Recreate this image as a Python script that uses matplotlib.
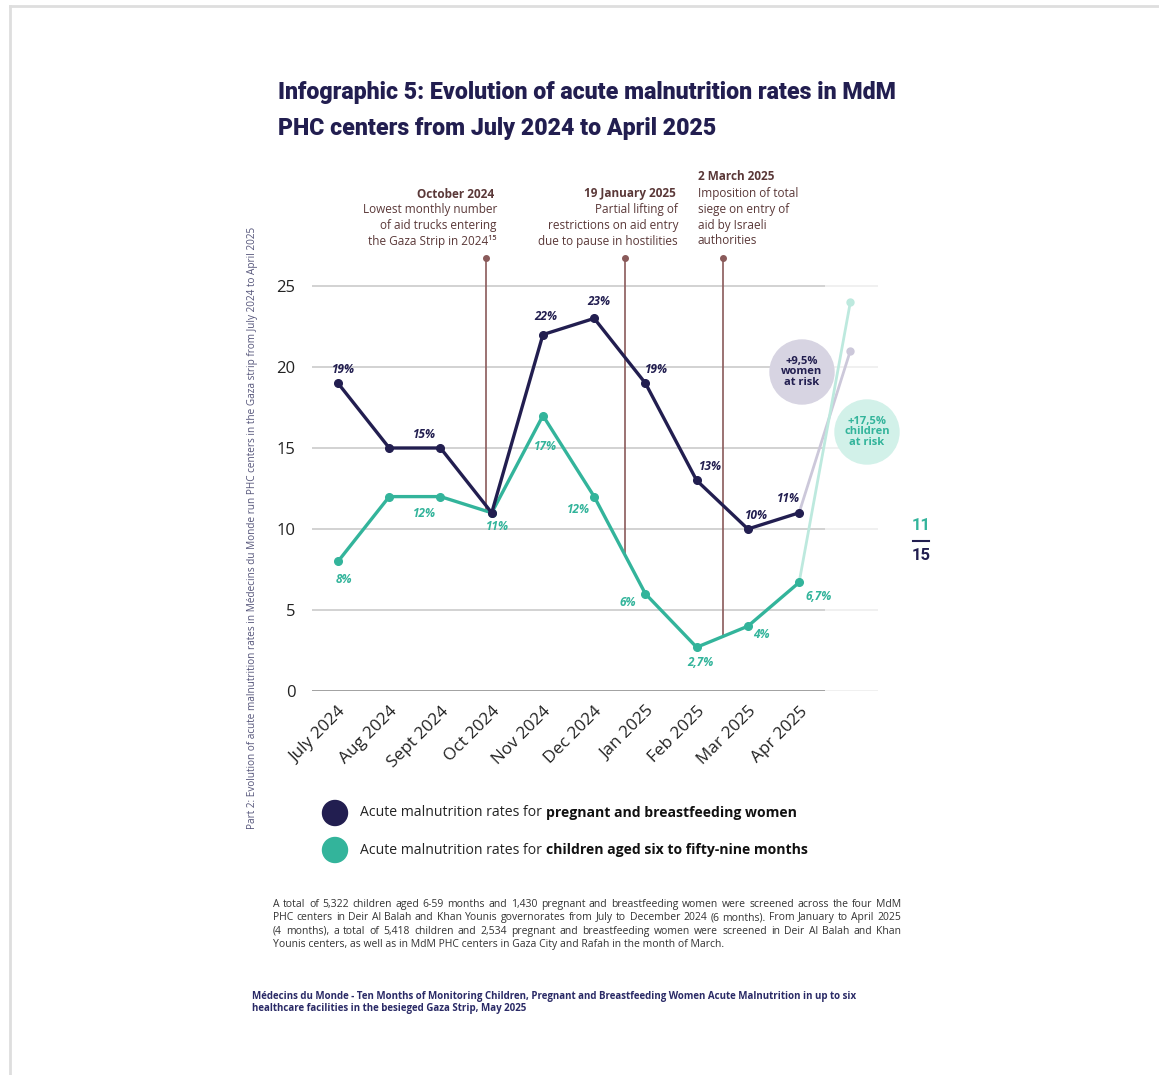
import matplotlib
matplotlib.use("Agg")
import matplotlib.pyplot as plt
import numpy as np
from matplotlib.patches import Circle
from matplotlib.lines import Line2D

plt.rcParams['font.family'] = ['Open Sans', 'DejaVu Sans']

# ---------------- data ----------------
months = ["July 2024", "Aug 2024", "Sept 2024", "Oct 2024", "Nov 2024",
          "Dec 2024", "Jan 2025", "Feb 2025", "Mar 2025", "Apr 2025"]
women = [19, 15, 15, 11, 22, 23, 19, 13, 10, 11]
children = [8, 12, 12, 11, 17, 12, 6, 2.7, 4, 6.7]
women_labels = ["19%", "15%", None, None, "22%", "23%", "19%", "13%", "10%", "11%"]
children_labels = ["8%", "12%", None, "11%", "17%", "12%", "6%", "2,7%", "4%", "6,7%"]
women_proj = 21.0      # projected value (+9,5%)
children_proj = 24.0   # projected value (+17,5%)
yticks = [0, 5, 10, 15, 20, 25]
event_pos = [2.88, 5.61, 7.52]
event_top = 26.7

NAVY = "#221e50"
TEAL = "#33b49b"
BROWN = "#8a5a5a"
TXTBROWN = "#5a3838"

W, H = 1159, 1075
fig = plt.figure(figsize=(W / 100, H / 100), dpi=100)
fig.patch.set_facecolor("white")
renderer = fig.canvas.get_renderer()

def fx(px):
    return px / W

def fy(py):
    return 1 - py / H

# page frame
fig.add_artist(Line2D([fx(10), fx(10)], [fy(6), 0], color="#dedede", lw=2))
fig.add_artist(Line2D([fx(10), 1], [fy(6), fy(6)], color="#dedede", lw=2))

ax = fig.add_axes([fx(312), fy(691), fx(878) - fx(312), fy(253.6) - fy(691)])
ax.set_xlim(-0.508, 10.54)
ax.set_ylim(0, 27)
for s in ax.spines.values():
    s.set_visible(False)

x = np.arange(len(months))
# grid lines
for yt in yticks:
    c = "#9a9a9a" if yt == 0 else "#cfcfcf"
    ax.plot([-0.508, 9.5], [yt, yt], color=c, lw=1.3, zorder=1, solid_capstyle="butt")
    ax.plot([9.5, 10.54], [yt, yt], color="#efefef", lw=1.3, zorder=1, solid_capstyle="butt")

ax.set_yticks(yticks)
ax.set_yticklabels([str(v) for v in yticks], fontsize=12, color="#222222")
ax.tick_params(axis="y", length=0, pad=12)
ax.set_xticks(x)
ax.set_xticklabels(months, rotation=45, ha="right", rotation_mode="anchor",
                   fontsize=12.3, color="#222222")
ax.tick_params(axis="x", length=0, pad=9)

# event lines
for ep in event_pos:
    yb = np.interp(ep, x, children)
    ax.plot([ep, ep], [yb, event_top], color=BROWN, lw=1.2, zorder=2)
    ax.plot([ep], [event_top], marker="o", ms=4, color=BROWN, zorder=2)

# projections
ax.plot([9, 10], [women[-1], women_proj], color="#ccc8da", lw=2, zorder=2)
ax.plot([10], [women_proj], marker="o", ms=5, color="#ccc8da", zorder=2)
ax.plot([9, 10], [children[-1], children_proj], color="#bde9de", lw=2, zorder=2)
ax.plot([10], [children_proj], marker="o", ms=5, color="#bde9de", zorder=2)

# main series
ax.plot(x, children, color=TEAL, lw=2.4, marker="o", ms=5.5, zorder=3)
ax.plot(x, women, color=NAVY, lw=2.4, marker="o", ms=5.5, zorder=4)

# data labels (offsets in points)
w_off = [(4, 10), (25, 10), None, None, (2, 13), (3, 12), (8, 10), (10, 10), (6, 10), (-8, 10)]
c_off = [(4, -13), (25, -12), None, (4, -10), (2, -22), (-11, -9), (-13, -6), (3, -11), (10, -6), (14, -10)]
lab_font = dict(fontsize=8.5, fontweight="bold", fontstyle="italic", ha="center", va="center")
for i in range(len(months)):
    if women_labels[i]:
        ax.annotate(women_labels[i], (x[i], women[i]), xytext=w_off[i],
                    textcoords="offset points", color=NAVY, **lab_font, zorder=6)
    if children_labels[i]:
        ax.annotate(children_labels[i], (x[i], children[i]), xytext=c_off[i],
                    textcoords="offset points", color=TEAL, **lab_font, zorder=6)

# overlay in pixel coordinates
ax_bb = fig.add_axes([0, 0, 1, 1], facecolor="none")
ax_bb.set_xlim(0, W)
ax_bb.set_ylim(H, 0)
ax_bb.axis("off")
ax_bb.set_aspect("equal")
ax_bb.add_patch(Circle((802, 372), 32, color="#d7d4e2", zorder=1))
ax_bb.add_patch(Circle((867, 432), 32, color="#d2f1e9", zorder=1))
ax_bb.text(802, 372, "+9,5%\nwomen\nat risk", ha="center", va="center", fontsize=8,
           fontweight="bold", color=NAVY, linespacing=0.95)
ax_bb.text(867, 432, "+17,5%\nchildren\nat risk", ha="center", va="center", fontsize=8,
           fontweight="bold", color=TEAL, linespacing=0.95)

# event texts
ev_font = dict(fontsize=8.5, color=TXTBROWN)
ax_bb.text(494, 194, "October 2024", ha="right", va="center", fontweight="bold", **ev_font)
for k, t in enumerate(["Lowest monthly number", "of aid trucks entering",
                       "the Gaza Strip in 2024\u00b9\u2075"]):
    ax_bb.text(497, 210 + 16 * k, t, ha="right", va="center", **ev_font)
ax_bb.text(676, 194, "19 January 2025", ha="right", va="center", fontweight="bold", **ev_font)
for k, t in enumerate(["Partial lifting of", "restrictions on aid entry",
                       "due to pause in hostilities"]):
    ax_bb.text(678, 210 + 16 * k, t, ha="right", va="center", **ev_font)
ax_bb.text(698, 177, "2 March 2025", ha="left", va="center", fontweight="bold", **ev_font)
for k, t in enumerate(["Imposition of total", "siege on entry of", "aid by Israeli", "authorities"]):
    ax_bb.text(698, 193 + 16 * k, t, ha="left", va="center", **ev_font)

# title (sized to fit the reference width)
title_font = ['Roboto', 'DejaVu Sans']
t_a = ax_bb.text(278, 93, "Infographic 5: Evolution of acute malnutrition rates in MdM",
                 ha="left", va="center", fontsize=20, fontweight="heavy", color=NAVY,
                 family=title_font)
wpx = t_a.get_window_extent(renderer=renderer).width
fs = 20 * 618 / wpx
t_a.set_fontsize(fs)
ax_bb.text(278, 128, "PHC centers from July 2024 to April 2025",
           ha="left", va="center", fontsize=fs, fontweight="heavy", color=NAVY,
           family=title_font)

# rotated side label
ax_bb.text(252, 528, "Part 2: Evolution of acute malnutrition rates in M\u00e9decins du Monde run PHC "
           "centers in the Gaza strip from July 2024 to April 2025",
           rotation=90, ha="center", va="center", fontsize=7.2, color="#55557a")

# page number
ax_bb.text(921, 526, "11", ha="center", va="center", fontsize=12, fontweight="bold",
           color=TEAL, family=title_font)
ax_bb.plot([913, 929], [541, 541], color=NAVY, lw=1.5)
ax_bb.text(921, 556, "15", ha="center", va="center", fontsize=12, fontweight="bold",
           color=NAVY, family=title_font)

# legend
leg_items = [(NAVY, "pregnant and breastfeeding women", 813),
             (TEAL, "children aged six to fifty-nine months", 850)]
for col, bold, yy in leg_items:
    ax_bb.add_patch(Circle((335, yy), 12.5, color=col))
    t1 = ax_bb.text(360, yy, "Acute malnutrition rates for ", ha="left", va="center",
                    fontsize=10.1, color="#222222")
    bb = t1.get_window_extent(renderer=renderer)
    ax_bb.text(360 + bb.width, yy, bold, ha="left", va="center", fontsize=10.1,
               fontweight="bold", color="#111111")

# footnote (justified between x=273 and x=901, last line left-aligned)
foot = ["A total of 5,322 children aged 6-59 months and 1,430 pregnant and breastfeeding women were screened across the four MdM",
        "PHC centers in Deir Al Balah and Khan Younis governorates from July to December 2024 (6 months). From January to April 2025",
        "(4 months), a total of 5,418 children and 2,534 pregnant and breastfeeding women were screened in Deir Al Balah and Khan",
        "Younis centers, as well as in MdM PHC centers in Gaza City and Rafah in the month of March."]
foot_fs = 7.5
fx0, fx1 = 273, 901
for k, line in enumerate(foot):
    yb_ = 907 + 13.3 * k
    if k == len(foot) - 1:
        ax_bb.text(fx0, yb_, line, ha="left", va="baseline", fontsize=foot_fs, color="#333333")
        continue
    words = line.split(" ")
    arts = [ax_bb.text(0, yb_, w_, ha="left", va="baseline", fontsize=foot_fs, color="#333333")
            for w_ in words]
    widths = [a.get_window_extent(renderer=renderer).width for a in arts]
    gap = (fx1 - fx0 - sum(widths)) / (len(words) - 1)
    pos = fx0
    for a, wd in zip(arts, widths):
        a.set_x(pos)
        pos += wd + gap

src = ["M\u00e9decins du Monde - Ten Months of Monitoring Children, Pregnant and Breastfeeding Women Acute Malnutrition in up to six",
       "healthcare facilities in the besieged Gaza Strip, May 2025"]
for k, t in enumerate(src):
    ax_bb.text(252, 996 + 13 * k, t, ha="left", va="center", fontsize=7.05,
               fontweight="bold", color="#2a2a66")

fig.savefig("out.png", dpi=100, facecolor="white")
